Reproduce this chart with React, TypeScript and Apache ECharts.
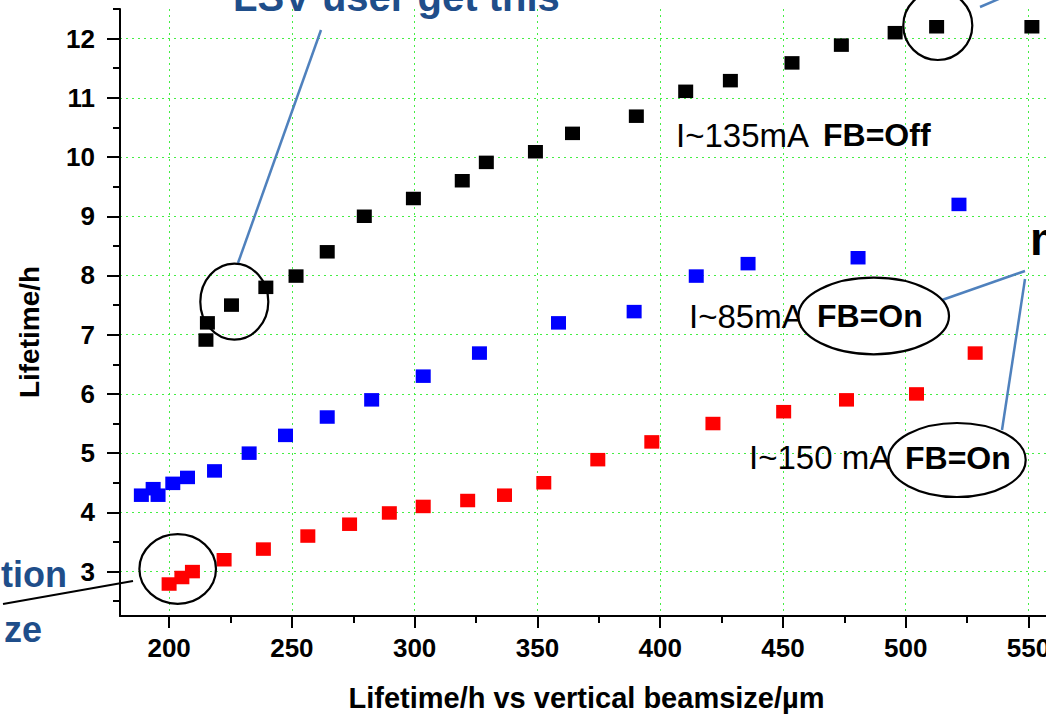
import React, { useEffect, useRef } from "react";
import * as echarts from "echarts";

const xTickValues = [200, 250, 300, 350, 400, 450, 500, 550];
const xMinorTickValues = [225, 275, 325, 375, 425, 475, 525];
const yTickValues = [3, 4, 5, 6, 7, 8, 9, 10, 11, 12];
const yMinorTickValues = [2.5, 3.5, 4.5, 5.5, 6.5, 7.5, 8.5, 9.5, 10.5, 11.5, 12.5];

// I~135mA FB=Off (black)
const blackX = [215.0, 215.6, 225.4, 239.4, 251.7, 264.4, 279.5, 299.5, 319.4, 329.2, 349.2, 364.3, 390.3, 410.4, 428.6, 453.7, 473.8, 495.7, 512.6, 551.4];
const blackY = [6.91, 7.2, 7.5, 7.8, 7.99, 8.4, 9.0, 9.3, 9.6, 9.91, 10.09, 10.4, 10.69, 11.11, 11.29, 11.59, 11.89, 12.1, 12.2, 12.2];

// I~85mA FB=On (blue)
const blueX = [188.7, 193.5, 195.5, 201.5, 207.5, 218.5, 232.6, 247.4, 264.4, 282.5, 303.5, 326.4, 358.6, 389.4, 414.7, 435.8, 480.6, 521.7];
const blueY = [4.29, 4.4, 4.29, 4.49, 4.59, 4.7, 5.0, 5.3, 5.61, 5.9, 6.3, 6.69, 7.2, 7.39, 7.99, 8.2, 8.3, 9.2];

// I~150 mA FB=On (red)
const redX = [200.0, 205.2, 209.5, 222.4, 238.4, 256.5, 273.5, 289.7, 303.5, 321.6, 336.6, 352.6, 374.6, 396.6, 421.5, 450.3, 475.9, 504.4, 528.3];
const redY = [2.79, 2.9, 3.0, 3.2, 3.38, 3.6, 3.8, 3.99, 4.1, 4.2, 4.29, 4.5, 4.89, 5.19, 5.5, 5.7, 5.9, 6.0, 6.69];

const FONT = "'Liberation Sans', Arial, Helvetica, sans-serif";
const GRID_GREEN = "#44ee44";
const NOTE_BLUE = "#4F81BD";
const TITLE_BLUE = "#1F4E8A";

const zip = (xs: number[], ys: number[]) => xs.map((x, i) => [x, ys[i]]);

export default function App() {
  const ref = useRef<HTMLDivElement>(null);

  useEffect(() => {
    if (!ref.current) return;
    const chart = echarts.init(ref.current, null, { renderer: "svg" });

    const tickStyle = { color: "#000", width: 2 };
    const labelStyle = {
      color: "#000",
      fontSize: 26,
      fontWeight: "bold" as const,
      fontFamily: FONT,
    };

    const text = (
      t: string,
      x: number,
      y: number,
      size: number,
      bold: boolean,
      fill = "#000",
      align = "left",
      z = 100
    ) => ({
      type: "text",
      x,
      y,
      z,
      silent: true,
      style: {
        text: t,
        fill,
        font: `${bold ? "bold " : ""}${size}px ${FONT}`,
        align,
        verticalAlign: "middle",
      },
    });

    const ellipse = (cx: number, cy: number, rx: number, ry: number, fill = "none", z = 101) => ({
      type: "ellipse",
      z,
      silent: true,
      shape: { cx, cy, rx, ry },
      style: { fill, stroke: "#000", lineWidth: 2.2 },
    });

    const line = (x1: number, y1: number, x2: number, y2: number, stroke = NOTE_BLUE, w = 2.5) => ({
      type: "line",
      z: 100,
      silent: true,
      shape: { x1, y1, x2, y2 },
      style: { stroke, lineWidth: w },
    });

    const yTitle = {
      type: "text",
      x: 29,
      y: 332,
      rotation: Math.PI / 2,
      z: 100,
      silent: true,
      style: {
        text: "Lifetime/h",
        fill: "#000",
        font: `bold 28px ${FONT}`,
        align: "center",
        verticalAlign: "middle",
      },
    };

    const scatter = (name: string, xs: number[], ys: number[], color: string) => ({
      type: "scatter",
      name,
      xAxisIndex: 0,
      yAxisIndex: 0,
      data: zip(xs, ys),
      symbol: "rect",
      symbolSize: [15, 13.5],
      itemStyle: { color, opacity: 1 },
      z: 5,
    });

    chart.setOption({
      animation: false,
      backgroundColor: "#fff",
      grid: {
        left: 120,
        top: 9,
        width: 933,
        height: 607,
        containLabel: false,
        outerBoundsMode: "none",
      },
      xAxis: [
        {
          type: "value",
          min: 180,
          max: 560,
          minInterval: 50,
          maxInterval: 50,
          position: "bottom",
          axisLine: { show: true, onZero: false, lineStyle: tickStyle },
          axisTick: { show: true, customValues: xTickValues, length: 12, lineStyle: tickStyle },
          axisLabel: { show: true, customValues: xTickValues, margin: 19, ...labelStyle },
          splitLine: { show: true, lineStyle: { color: GRID_GREEN, width: 1, type: [2, 4] } },
          name: "Lifetime/h vs vertical beamsize/µm",
          nameLocation: "middle",
          nameGap: 67,
          nameTextStyle: { color: "#000", fontSize: 29, fontWeight: "bold", fontFamily: FONT },
        },
        {
          type: "value",
          min: 180,
          max: 560,
          position: "bottom",
          gridIndex: 0,
          axisLine: { show: false, onZero: false },
          axisTick: { show: true, customValues: xMinorTickValues, length: 7, lineStyle: tickStyle },
          axisLabel: { show: false },
          splitLine: { show: false },
        },
      ],
      yAxis: [
        {
          type: "value",
          min: 2.25,
          max: 12.5,
          minInterval: 1,
          maxInterval: 1,
          position: "left",
          axisLine: { show: true, onZero: false, lineStyle: tickStyle },
          axisTick: { show: true, customValues: yTickValues, length: 13, lineStyle: tickStyle },
          axisLabel: { show: true, customValues: yTickValues, margin: 25, ...labelStyle },
          splitLine: { show: true, lineStyle: { color: GRID_GREEN, width: 1, type: [2, 4] } },
        },
        {
          type: "value",
          min: 2.25,
          max: 12.5,
          position: "left",
          gridIndex: 0,
          axisLine: { show: false, onZero: false },
          axisTick: { show: true, customValues: yMinorTickValues, length: 7, lineStyle: tickStyle },
          axisLabel: { show: false },
          splitLine: { show: false },
        },
      ],
      series: [
        scatter("I~135mA FB=Off", blackX, blackY, "#000000"),
        scatter("I~85mA FB=On", blueX, blueY, "#0000ff"),
        scatter("I~150 mA FB=On", redX, redY, "#ff0000"),
      ],
      graphic: [
        yTitle,
        // top partial title
        text("LSV user get this", 233, -3, 40, true, TITLE_BLUE),
        // left partial note
        text("tion", 67, 574, 36, true, TITLE_BLUE, "right"),
        text("ze", 42, 629, 36, true, TITLE_BLUE, "right"),
        // right partial note
        text("m", 1030, 239, 46, true, "#000"),
        // connecting lines
        line(238, 263, 321, 30),
        line(980, 7, 1001, -2),
        line(1025, 271, 942, 300),
        line(1025, 279, 1002, 430),
        line(3, 604, 133, 581, "#000", 2),
        // series labels
        text("I~135mA", 676, 135, 33, false),
        text("FB=Off", 823, 135, 32, true),
        text("I~85mA", 689, 316, 33, false, "#000", "left", 100),
        ellipse(873.7, 316, 75.3, 38.3, "#fff", 101),
        text("FB=On", 817, 316, 32, true, "#000", "left", 102),
        text("I~150 mA", 749, 457.5, 33, false, "#000", "left", 100),
        ellipse(957, 460, 68.7, 37, "#fff", 101),
        text("FB=On", 905, 457.5, 32, true, "#000", "left", 102),
        // highlight circles
        ellipse(234.3, 301.7, 34, 38),
        ellipse(177.7, 569, 38.3, 34.8),
        ellipse(937.8, 25.5, 34.5, 34.5),
      ],
    });

    return () => chart.dispose();
  }, []);

  return (
    <div
      ref={ref}
      style={{ position: "absolute", left: 0, top: 0, width: 1046, height: 714, background: "#fff" }}
    />
  );
}
